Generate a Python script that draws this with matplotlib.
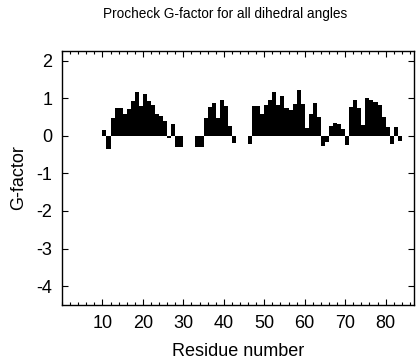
import matplotlib
matplotlib.use("Agg")
import matplotlib.pyplot as plt
from matplotlib.ticker import MultipleLocator
import numpy as np

plt.rcParams['font.family'] = ['Liberation Sans', 'DejaVu Sans']
plt.rcParams['axes.unicode_minus'] = False

# residue numbers and G-factor per residue
residues = np.arange(10, 84)
g_factor = [
    0.15, -0.35, 0.46, 0.75, 0.75, 0.58, 0.72, 0.92, 1.15, 0.78,   # 10-19
    1.12, 0.92, 0.82, 0.58, 0.52, 0.40, -0.07, 0.30, -0.30, -0.30,  # 20-29
    0.0, 0.0, 0.0, -0.30, -0.30, 0.48, 0.77, 0.88, 0.48, 0.94,      # 30-39
    0.80, 0.26, -0.20, 0.0, 0.0, 0.0, -0.23, 0.79, 0.79, 0.59,      # 40-49
    0.83, 0.94, 1.15, 0.81, 1.05, 0.74, 0.68, 0.85, 1.22, 0.84,     # 50-59
    0.21, 0.59, 0.88, 0.50, -0.27, -0.16, 0.26, 0.34, 0.30, 0.19,   # 60-69
    -0.25, 0.77, 0.94, 0.75, 0.28, 1.01, 0.96, 0.90, 0.81, 0.50,    # 70-79
    0.24, -0.23, 0.24, -0.13,                                       # 80-83
]

fig = plt.figure(figsize=(4.16, 3.6), dpi=100)
ax = fig.add_axes([0.149, 0.153, 0.846, 0.705])

ax.bar(residues, g_factor, width=1.0, align='edge', color='black',
       edgecolor='none')

ax.set_xlim(0, 87)
ax.set_ylim(-4.5, 2.25)
ax.set_xticks(range(10, 90, 10))
ax.xaxis.set_minor_locator(MultipleLocator(2))
ax.set_yticks(range(-4, 3))

ax.tick_params(which='both', direction='in', top=True, right=True,
               labelsize=13, width=0.8, pad=7)
ax.tick_params(which='major', length=4)
ax.tick_params(which='minor', length=2)
for s in ax.spines.values():
    s.set_linewidth(1.0)

ax.set_xlabel("Residue number", fontsize=13, labelpad=8)
ax.set_ylabel("G-factor", fontsize=13, labelpad=7)
fig.text(0.54, 0.96, "Procheck G-factor for all dihedral angles",
         ha='center', va='center', fontsize=9.8)

fig.savefig("out.png", dpi=100)
